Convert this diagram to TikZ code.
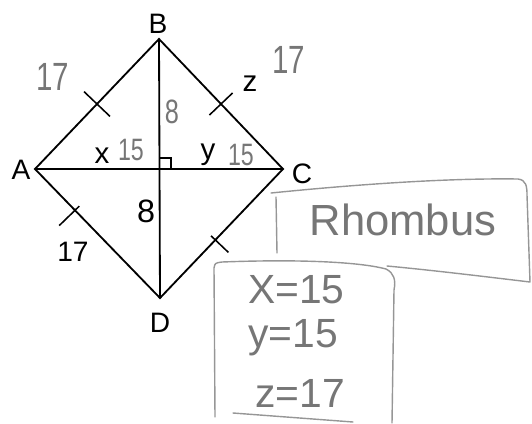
\documentclass[tikz,border=0pt]{standalone}
\usepackage{fontspec}
\setmainfont{Liberation Sans}
\newfontfamily\handfont[FakeStretch=0.75]{Liberation Sans}
\usepackage{tikz}
\usetikzlibrary{calc}
\definecolor{handgray}{RGB}{118,118,118}
\definecolor{boxgray}{RGB}{150,150,150}
\tikzset{
  vertex/.style={font=\fontsize{20}{20}\selectfont},
  given/.style={font=\fontsize{20}{20}\selectfont},
  unknown/.style={font=\fontsize{21}{21}\selectfont},
  pencil/.style={text=handgray, font=\handfont\fontsize{24}{24}\selectfont},
  answer/.style={pencil, anchor=base west, inner sep=0pt, font=\fontsize{29}{29}\selectfont},
  side/.style={line width=1.3pt},
  tickmark/.style={line width=1.1pt},
  boxline/.style={draw=boxgray, line width=1pt, line cap=round, line join=round},
}

\begin{document}
\begin{tikzpicture}[x=0.025cm, y=-0.025cm]
\useasboundingbox (0,0) rectangle (532,423);
% rhombus and its diagonals
\coordinate (A) at (35,169);
\coordinate (B) at (159,39);
\coordinate (C) at (283,169);
\coordinate (D) at (160,298);
\coordinate (O) at (B |- A);
\draw[side] (A) -- (B) -- (C) -- (D) -- cycle;
\draw[side] (A) -- (C) (B) -- (D);
\draw[line width=0.9pt] ($(O)+(12,0)$) |- ($(O)+(0,-11)$);
% equal side ticks
\coordinate (tAB) at ($(A)!0.5!(B)$);
\coordinate (tBC) at ($(B)!0.5!(C)$);
\coordinate (tAD) at ($(A)!0.32!(D)$);
\coordinate (tCD) at ($(C)!0.55!(D)$);
\draw[tickmark] ($(tAB)!0.45cm!90:(B)$) -- ($(tAB)!0.45cm!-90:(B)$);
\draw[tickmark] ($(tBC)!0.4cm!90:(C)$) -- ($(tBC)!0.4cm!-90:(C)$);
\draw[tickmark] ($(tAD)!0.15cm!90:(D)$) -- ($(tAD)!0.55cm!-90:(D)$);
\draw[tickmark] ($(tCD)!0.15cm!-90:(D)$) -- ($(tCD)!0.45cm!90:(D)$);
% vertex names
\node[vertex] (nameA) at (21,170) {A};
\node[vertex] (nameB) at (158,24) {B};
\node[vertex] (nameC) at (302,174) {C};
\node[vertex] (nameD) at (160,323) {D};
% printed lengths and unknowns
\node[unknown] (varx) at (102,156) {x};
\node[unknown] (vary) at (208,155) {y};
\node[unknown] (varz) at (250,84) {z};
\node[given, font=\fontsize{23}{23}\selectfont] (halfBD) at (146,211) {8};
\node[given] (sideAD) at (73,252) {17};
% pencil notes
\node[pencil, font=\handfont\fontsize{28}{28}\selectfont] (noteAB) at (53,77) {17};
\node[pencil, font=\handfont\fontsize{28}{28}\selectfont] (noteBC) at (289,60) {17};
\node[pencil] (noteBO) at (172,112) {8};
\node[pencil, font=\handfont\fontsize{22}{22}\selectfont] (noteAO) at (131,150) {15};
\node[pencil, font=\handfont\fontsize{22}{22}\selectfont] (noteOC) at (241,155) {15};
% boxed answers
\draw[boxline] (277,253) -- (276,197);
\draw[boxline] (271,193) .. controls (360,184) and (450,178) .. (518,179)
  .. controls (526,180) and (527,186) .. (527,195) -- (530,282)
  .. controls (480,276) and (430,270) .. (387,266);
\draw[boxline] (215,417) -- (214,268) .. controls (215,263) .. (222,262)
  .. controls (300,259) and (360,262) .. (386,269)
  .. controls (394,273) and (396,280) .. (394,290) -- (392,423);
\draw[boxline] (233,413) -- (353,422);
\node[pencil, font=\fontsize{31}{31}\selectfont] (shape) at (403,220) {Rhombus};
\node[answer] (ansx) at (248,303) {X=15};
\node[answer] (ansy) at (248,347) {y=15};
\node[answer] (ansz) at (255,407) {z=17};
\end{tikzpicture}
\end{document}
